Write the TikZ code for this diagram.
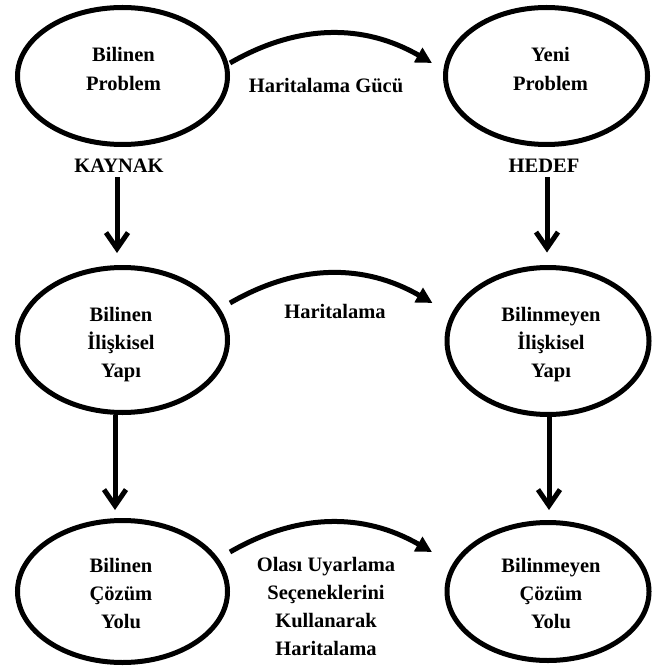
\documentclass[tikz,border=0pt]{standalone}
\usepackage{fontspec}
\setmainfont{Liberation Serif}
\usetikzlibrary{shapes.geometric,arrows.meta}
\begin{document}
\begin{tikzpicture}[x=1pt,y=-1pt,
  stage/.style={ellipse,draw,line width=5pt,inner sep=0pt},
  txt/.style={font=\fontsize{20.5}{28.3}\selectfont\bfseries,align=center,inner sep=0pt},
  lbl/.style={font=\fontsize{20.5}{28.3}\selectfont\bfseries,inner sep=0pt,anchor=base},
  down/.style={line width=5pt,-{Straight Barb[length=16pt,width=22pt]}},
  map/.style={line width=5pt,-{Triangle[length=16pt,width=16pt]},bend left=30}
]
\useasboundingbox (0,0) rectangle (651,668);

% stages of the analogy
\node[stage,minimum width=210pt,minimum height=137pt] (tl) at (122.5,76) {};
\node[stage,minimum width=202pt,minimum height=137pt] (tr) at (546.5,76) {};
\node[stage,minimum width=210pt,minimum height=145pt] (ml) at (122.5,340) {};
\node[stage,minimum width=202pt,minimum height=147pt] (mr) at (548,341) {};
\node[stage,minimum width=210pt,minimum height=142pt] (bl) at (122.5,591.5) {};
\node[stage,minimum width=202pt,minimum height=138pt] (br) at (548,591.5) {};

% texts inside the stages
\node[txt] (tlt) at (123.5,70.3) {\strut Bilinen\\\strut Problem};
\node[txt] (trt) at (550.5,70.3) {\strut Yeni\\\strut Problem};
\node[txt] (mlt) at (121,343.8) {\strut Bilinen\\\strut İlişkisel\\\strut Yapı};
\node[txt] (mrt) at (551,344) {\strut Bilinmeyen\\\strut İlişkisel\\\strut Yapı};
\node[txt] (blt) at (121,594.8) {\strut Bilinen\\\strut Çözüm\\\strut Yolu};
\node[txt] (brt) at (551,594.8) {\strut Bilinmeyen\\\strut Çözüm\\\strut Yolu};

% labels
\node[lbl] (kaynak) at (119,173) {KAYNAK};
\node[lbl] (hedef) at (544,173) {HEDEF};
\node[lbl] (m1) at (326,93) {Haritalama Gücü};
\node[lbl] (m2) at (335,318) {Haritalama};
\node[txt] (m3) at (326,607.8) {\strut Olası Uyarlama\\\strut Seçeneklerini\\\strut Kullanarak\\\strut Haritalama};

% vertical steps
\draw[down] ([shift={(-2pt,-4pt)}]kaynak.south) -- ([shift={(-5.5pt,12pt)}]ml.north);
\draw[down] ([shift={(3pt,-4pt)}]hedef.south) -- ([shift={(-1pt,12.5pt)}]mr.north);
\draw[down] ([xshift=-7.5pt]ml.south) -- ([shift={(-7.5pt,8pt)}]bl.north);
\draw[down] ([xshift=1pt]mr.south) -- ([shift={(1pt,10pt)}]br.north);

% mappings from source to target
\draw[map] ([yshift=13pt]tl.east) to ([shift={(-11pt,13pt)}]tr.west);
\draw[map] ([yshift=37pt]ml.east) to ([shift={(-12pt,38pt)}]mr.west);
\draw[map] ([yshift=39.5pt]bl.east) to ([shift={(-12.5pt,39.5pt)}]br.west);
\end{tikzpicture}
\end{document}
